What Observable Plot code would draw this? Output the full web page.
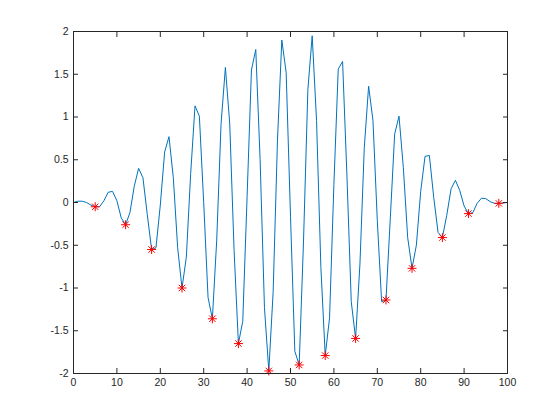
<!DOCTYPE html>
<html><head><meta charset="utf-8">
<script src="https://cdn.jsdelivr.net/npm/d3@7"></script>
<script src="https://cdn.jsdelivr.net/npm/@observablehq/plot@0.6"></script>
<style>body{margin:0;background:#fff} #chart{width:560px;height:420px}</style>
</head><body><div id="chart"></div>
<script>
// signal samples at x = 0, 1, 2, ..., 100
const ys = [
  0.00, 0.015, 0.015, 0.00, -0.03, -0.05, -0.05, 0.02, 0.12, 0.13,
  0.02, -0.18, -0.26, -0.12, 0.19, 0.40, 0.29, -0.14, -0.55, -0.53,
  -0.03, 0.59, 0.77, 0.29, -0.53, -1.00, -0.64, 0.34, 1.13, 1.01,
  0.00, -1.11, -1.36, -0.44, 0.92, 1.58, 0.92, -0.56, -1.65, -1.39,
  0.07, 1.55, 1.79, 0.50, -1.23, -1.97, -1.05, 0.73, 1.90, 1.52,
  -0.16, -1.74, -1.90, -0.45, 1.32, 1.95, 0.96, -0.76, -1.79, -1.35,
  0.21, 1.56, 1.65, 0.32, -1.16, -1.59, -0.72, 0.64, 1.36, 0.96,
  -0.21, -1.16, -1.14, -0.18, 0.80, 1.01, 0.41, -0.41, -0.77, -0.50,
  0.13, 0.54, 0.55, 0.06, -0.35, -0.41, -0.15, 0.16, 0.26, 0.14,
  -0.04, -0.13, -0.12, -0.01, 0.05, 0.045, 0.01, -0.01, -0.01, -0.005,
  0.00
];
// local minima markers
const minX = [5, 12, 18, 25, 32, 38, 45, 52, 58, 65, 72, 78, 85, 91, 98];
const minY = [-0.05, -0.26, -0.55, -1.00, -1.36, -1.65, -1.97, -1.90, -1.79, -1.59, -1.14, -0.77, -0.41, -0.13, -0.01];
const xTicks = [0, 10, 20, 30, 40, 50, 60, 70, 80, 90, 100];
const yTicks = [-2, -1.5, -1, -0.5, 0, 0.5, 1, 1.5, 2];
const yTickLabels = ["-2", "-1.5", "-1", "-0.5", "0", "0.5", "1", "1.5", "2"];

const series = ys.map((y, i) => ({x: i, y}));
const mins = minX.map((x, i) => ({x, y: minY[i]}));
const axisColor = "#262626";

const plot = Plot.plot({
  width: 560, height: 420,
  marginLeft: 73, marginRight: 53, marginTop: 31, marginBottom: 47,
  style: {fontFamily: "Liberation Sans, Arial, sans-serif", fontSize: "10.5px", color: axisColor, background: "#fff"},
  x: {domain: [0, 100]},
  y: {domain: [-2, 2]},
  marks: [
    Plot.line(series, {x: "x", y: "y", stroke: "#0072BD", strokeWidth: 1}),
    Plot.dot(mins, {x: "x", y: "y", symbol: "plus", stroke: "#ff0000", r: 3, strokeWidth: 1}),
    Plot.dot(mins, {x: "x", y: "y", symbol: "times", stroke: "#ff0000", r: 3, strokeWidth: 1}),
    Plot.frame({stroke: axisColor}),
    Plot.axisX(xTicks, {anchor: "bottom", tickSize: -5, tickPadding: 10, label: null, stroke: axisColor, fill: axisColor}),
    Plot.axisX(xTicks, {anchor: "top", tickSize: -5, tickFormat: () => "", label: null, stroke: axisColor}),
    Plot.axisY(yTicks, {anchor: "left", tickSize: -5, tickPadding: 10, tickFormat: d => yTickLabels[yTicks.indexOf(d)], label: null, stroke: axisColor, fill: axisColor}),
    Plot.axisY(yTicks, {anchor: "right", tickSize: -5, tickFormat: () => "", label: null, stroke: axisColor})
  ]
});
document.getElementById("chart").appendChild(plot);
</script>
</body></html>
